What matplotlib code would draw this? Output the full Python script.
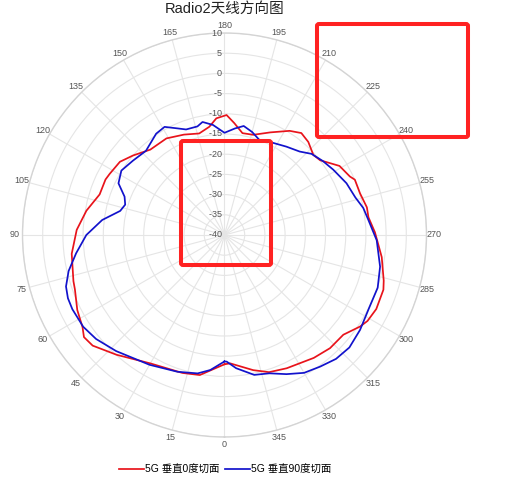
import numpy as np
import matplotlib
matplotlib.use("Agg")
import matplotlib.pyplot as plt
from matplotlib.patches import FancyBboxPatch

plt.rcParams['font.family'] = ['Liberation Sans', 'Noto Sans CJK SC', 'DejaVu Sans']

title = "Radio2天线方向图"
series_names = ["5G 垂直0度切面", "5G 垂直90度切面"]

# red series: angle (deg), gain (dB)
red_theta = [0, 10, 17, 30, 42, 50, 54, 57, 63, 70, 73, 83, 92, 100, 108, 115,
             118, 125, 131, 139, 149, 158, 166, 172, 176, 181, 185, 190, 196,
             204, 212, 217, 222, 228, 232, 239, 245, 247, 253, 259, 263, 269,
             278, 286, 289, 296, 301, 304, 310, 317, 324, 335, 342, 348, 357.5]
red_db = [-8.0, -4.8, -4.3, -3.3, -0.1, 2.6, 3.0, 1.9, 0.9, -0.6, -0.9, -1.9,
          -3.4, -5.3, -7.5, -7.5, -7.8, -8.4, -10.0, -12.0, -12.1, -13.2,
          -14.1, -12.95, -11.05, -10.3, -12.2, -14.4, -14.2, -12.2, -9.6, -8.4,
          -9.0, -10.4, -9.95, -6.8, -5.75, -4.95, -4.9, -4.1, -4.1, -2.75,
          -0.7, 1.0, 1.6, 1.8, 1.3, 0.5, -1.6, -1.7, -2.4, -3.6, -4.3, -5.8,
          -8.2]

# blue series: angle (deg), gain (dB)
blue_theta = [0, 6, 11, 19, 30, 43, 51, 57, 64, 68, 72, 77, 83, 90, 97, 103,
              107, 111, 116, 122, 129, 137, 146, 151, 156, 160, 166, 169, 174,
              180, 185.6, 190, 195, 200, 208, 215, 222, 227, 233, 239, 247, 254,
              259, 264, 272, 281.5, 289, 297, 305, 312, 318, 324, 330, 336, 342,
              348, 355, 359]
blue_db = [-8.7, -6.4, -5.1, -4.2, -2.9, -0.7, 0.9, 1.7, 1.9, 1.8, 1.25, -0.4,
           -3.0, -5.8, -9.5, -13.5, -14.3, -13.5, -10.8, -9.9, -10.8, -11.5,
           -9.75, -9.4, -11.1, -12.2, -12.3, -11.5, -12.6, -14.7, -13.5, -12.6,
           -13.6, -14.9, -14.2, -13.3, -12.2, -10.55, -9.55, -8.6, -7.2, -6.3,
           -5.0, -4.2, -2.3, -0.7, 0.1, 0.1, 0.96, 1.6, 1.26, 0.27, -0.6, -2.3,
           -4.0, -4.6, -6.9, -8.65]

r_ticks = [-40, -35, -30, -25, -20, -15, -10, -5, 0, 5, 10]
theta_ticks = list(range(0, 360, 15))

W, H = 524, 488
fig = plt.figure(figsize=(W / 100, H / 100), dpi=100)
cx, cy, R = 224.5, 235.0, 202.0
ax = fig.add_axes([(cx - R) / W, (H - cy - R) / H, 2 * R / W, 2 * R / H],
                  projection='polar')
ax.set_theta_zero_location('S')
ax.set_theta_direction(-1)
ax.set_ylim(-40, 10)

def closed(t, v):
    t = np.deg2rad(np.array(t + [t[0]]))
    v = np.array(v + [v[0]])
    return t, v

t, v = closed(red_theta, red_db)
ax.plot(t, v, color='#e8131b', lw=1.25, label=series_names[0], zorder=5,
        solid_joinstyle='round')
t, v = closed(blue_theta, blue_db)
ax.plot(t, v, color='#1212cc', lw=1.25, label=series_names[1], zorder=5,
        solid_joinstyle='round')

ax.set_xticks(np.deg2rad(theta_ticks))
ax.set_xticklabels([str(a) for a in theta_ticks], fontsize=6.5, color='#555555')
ax.tick_params(axis='x', pad=-5)
ax.set_yticks(r_ticks)
ax.set_yticklabels([])
for r in r_ticks:
    ax.text(np.pi, r, str(r) + " ", ha='right', va='center', fontsize=6.5,
            color='#555555', zorder=4)
ax.grid(True, color='#e5e5e5', lw=0.8)
ax.spines['polar'].set_color('#d4d4d4')
ax.spines['polar'].set_linewidth(1.0)

fig.text(cx / W, 1 - 12.5 / H, title, ha='center', va='baseline', fontsize=10.5,
         color='#222222')

leg = fig.legend(loc='center', bbox_to_anchor=(225 / W, 1 - 470 / H), ncol=2,
                 frameon=False, fontsize=7.5, handlelength=2.4,
                 handletextpad=0.15, columnspacing=0.5)

for (x0, y0, x1, y1) in [(317, 24, 468, 137), (181, 141, 271, 265)]:
    p = FancyBboxPatch((x0 / W, 1 - y1 / H), (x1 - x0) / W, (y1 - y0) / H,
                       boxstyle='round,pad=0,rounding_size=0.004',
                       transform=fig.transFigure, fill=False,
                       edgecolor='#ff2222', lw=2.9, zorder=10)
    fig.add_artist(p)

fig.savefig('out.png', dpi=100)
